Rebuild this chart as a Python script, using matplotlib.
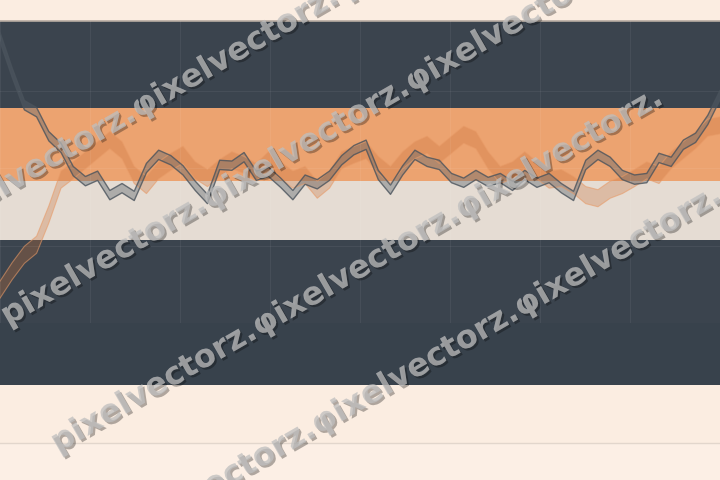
import matplotlib
matplotlib.use("Agg")
import matplotlib.pyplot as plt
import matplotlib.patheffects as pe
from matplotlib.patches import Rectangle
from matplotlib.lines import Line2D

# two series, 60 samples each
days = list(range(60))
dark_vals = [36.9, 32.3, 28.1, 27.2, 24.1, 22.6, 19.6, 18.3, 19.0, 16.5,
             17.4, 16.4, 20.0, 21.7, 21.0, 19.7, 17.7, 16.0, 20.4, 20.3,
             21.4, 19.0, 19.5, 18.1, 16.5, 18.5, 17.9, 19.0, 21.0, 22.3,
             23.0, 19.1, 17.2, 19.7, 21.7, 20.8, 20.4, 18.7, 18.1, 19.1,
             18.2, 18.7, 17.7, 19.1, 18.1, 18.7, 17.4, 16.4, 20.4, 21.7,
             20.8, 19.1, 18.5, 18.7, 21.3, 20.8, 23.0, 23.9, 26.2, 29.4]
orange_vals = [4.3, 6.7, 8.8, 10.1, 14.0, 18.5, 19.7, 21.0, 22.3, 23.6,
               22.3, 19.1, 17.8, 19.7, 20.8, 21.7, 19.7, 18.7, 20.0, 21.0,
               20.4, 19.5, 21.0, 19.7, 18.5, 19.1, 17.2, 18.5, 21.0, 21.7,
               22.3, 20.4, 19.1, 21.0, 22.3, 23.0, 21.7, 23.0, 24.3, 23.6,
               21.0, 19.1, 19.7, 21.0, 19.7, 18.5, 18.7, 17.8, 16.5, 16.1,
               17.2, 17.8, 18.7, 19.7, 19.1, 21.0, 22.3, 23.6, 25.2, 25.5]
dark_spread = 0.6
orange_spread = 1.1

# watermark rows: text and start point (figure pixels from top-left)
wm_texts = ["pixelvectorz.\u03c6ixelvectorz.\u03c6ixelvectorz.",
            "pixelvectorz.\u03c6ixelvectorz.\u03c6ixelvectorz.",
            "pixelvectorz.\u03c6ixelvectorz.\u03c6ixelvectorz.",
            "pixelvectorz.\u03c6ixelvectorz.\u03c6ixelvectorz."]
wm_x = [-63, 8, 58, 117]
wm_y = [235, 326, 453, 551]

cream = "#fbede1"
slate = "#38424c"
orange = "#eca26e"
beige = "#e5dcd3"

W, H = 720, 480

def fy(px):
    return 1 - px / H

fig = plt.figure(figsize=(7.2, 4.8), dpi=100, facecolor=cream)

# background bands (figure pixels)
fig.add_artist(Rectangle((0, fy(385)), 1, fy(21) - fy(385), transform=fig.transFigure,
                         facecolor=slate, edgecolor="none", zorder=-3))
fig.add_artist(Rectangle((0, fy(181)), 1, fy(108) - fy(181), transform=fig.transFigure,
                         facecolor=orange, edgecolor="none", zorder=-2))
fig.add_artist(Rectangle((0, fy(240)), 1, fy(181) - fy(240), transform=fig.transFigure,
                         facecolor=beige, edgecolor="none", zorder=-2))
fig.add_artist(Rectangle((0, 0), 1, fy(443), transform=fig.transFigure,
                         facecolor="#fcefe5", edgecolor="none", zorder=-3))
fig.add_artist(Line2D([0, 1], [fy(21), fy(21)], transform=fig.transFigure,
                      color="#b8aca2", lw=1.2, zorder=-1))
fig.add_artist(Line2D([0, 1], [fy(443), fy(443)], transform=fig.transFigure,
                      color="#e2d6cc", lw=1, zorder=-1))

ax = fig.add_axes([0, fy(323), 1, fy(21) - fy(323)])
ax.set_facecolor((1, 1, 1, 0.015))
ax.set_xlim(0, 59)
ax.set_ylim(0, 302 / 7.75)
ax.set_xticks([i * 59 / 8 for i in range(9)])
ax.set_yticks([0, 10, 20, 30])
ax.grid(True, color="white", lw=0.8, alpha=0.06)
ax.tick_params(length=0, labelbottom=False, labelleft=False)
for s in ax.spines.values():
    s.set_visible(False)

# orange series ribbon
lo = [v - orange_spread for v in orange_vals]
hi = [v + orange_spread for v in orange_vals]
ax.fill_between(days, lo, hi, color="#c8703a", alpha=0.3, lw=0)
ax.plot(days, lo, color="#e89a66", lw=0.8, alpha=0.6)
ax.plot(days, hi, color="#e89a66", lw=0.8, alpha=0.6)

# dark series ribbon
lo = [v - dark_spread for v in dark_vals]
hi = [v + dark_spread for v in dark_vals]
ax.fill_between(days, lo, hi, color="#5a646d", alpha=0.4, lw=0)
ax.plot(days, lo, color="#4a535c", lw=1, alpha=0.8)
ax.plot(days, hi, color="#4a535c", lw=1, alpha=0.8)

# watermark
for s, x0, y0 in zip(wm_texts, wm_x, wm_y):
    fig.text(x0 / W, fy(y0), s, rotation=30, rotation_mode="anchor",
             ha="left", va="baseline", fontsize=23, fontweight="bold",
             color=(0.75, 0.75, 0.75, 0.5), zorder=10,
             path_effects=[pe.withSimplePatchShadow(offset=(1.5, -1.5),
                                                   shadow_rgbFace="k", alpha=0.3),
                           pe.Normal()])

fig.savefig("out.png", dpi=100, facecolor=fig.get_facecolor())
